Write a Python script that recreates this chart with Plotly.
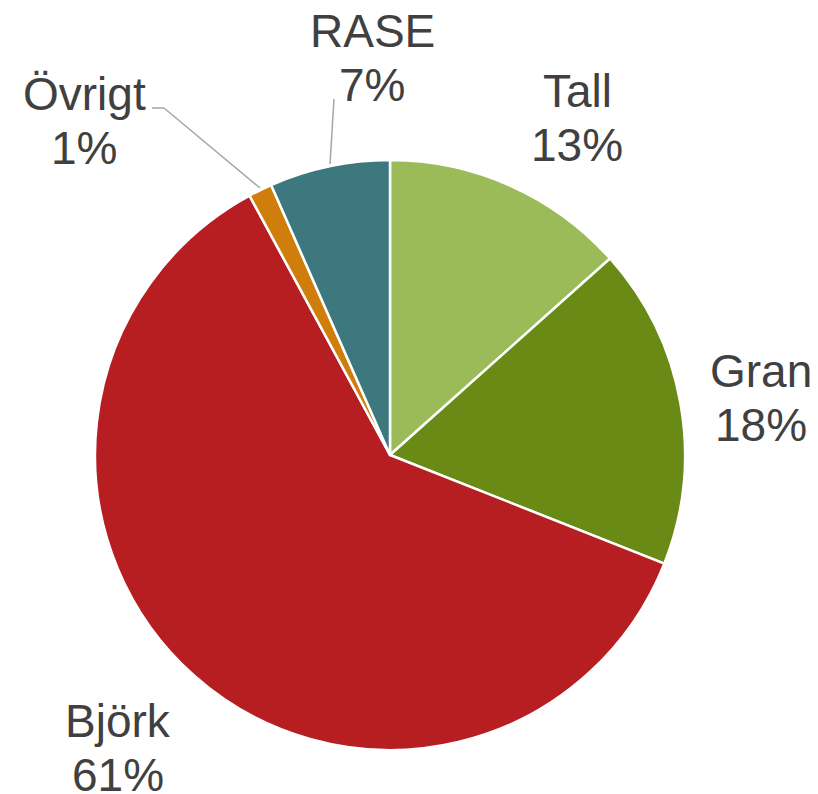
import plotly.graph_objects as go

# Data
categories = ["Tall", "Gran", "Björk", "Övrigt", "RASE"]
shares = [13.4, 17.6, 61.1, 1.3, 6.6]
colors = ["#9BBB59", "#6A8A16", "#B71E21", "#D07E0B", "#3E787F"]

W, H = 818, 794
total = sum(shares)
pct_labels = [f"{round(v / total * 100)}%" for v in shares]

# label placement (pixel centers, baseline of name / percent line)
label_pos = {
    "Tall": (577, 105),
    "Gran": (761, 385),
    "Björk": (118, 735),
    "Övrigt": (84, 108),
    "RASE": (372, 45),
}
line_gap = 54

fig = go.Figure(go.Pie(
    labels=categories,
    values=shares,
    sort=False,
    direction="clockwise",
    rotation=0,
    marker=dict(colors=colors, line=dict(color="white", width=2.5)),
    textinfo="none",
    hoverinfo="label+percent",
    domain=dict(x=[95 / W, 685 / W], y=[44 / H, 634 / H]),
    showlegend=False,
))

font = dict(family="Liberation Sans, Arial, sans-serif", size=46, color="#404040")
cap_half = 14
for cat, pct in zip(categories, pct_labels):
    x, yb = label_pos[cat]
    for txt, base in ((cat, yb), (pct, yb + line_gap)):
        fig.add_annotation(
            x=x / W, y=1 - (base - cap_half) / H, xref="paper", yref="paper",
            text=txt, showarrow=False, xanchor="center", yanchor="middle",
            font=font,
        )

# leader lines
def seg(x0, y0, x1, y1):
    fig.add_shape(type="line", xref="paper", yref="paper",
                  x0=x0 / W, y0=1 - y0 / H, x1=x1 / W, y1=1 - y1 / H,
                  line=dict(color="#A6A6A6", width=1.5))

seg(152, 108, 164, 108)
seg(164, 108, 260, 188)
seg(334, 99, 330, 164)

fig.update_layout(
    width=W, height=H,
    margin=dict(l=0, r=0, t=0, b=0),
    paper_bgcolor="white",
    plot_bgcolor="white",
)

fig.write_html("out.html", config={"displayModeBar": False},
               post_script="document.body.style.margin='0';document.body.style.overflow='hidden';")
